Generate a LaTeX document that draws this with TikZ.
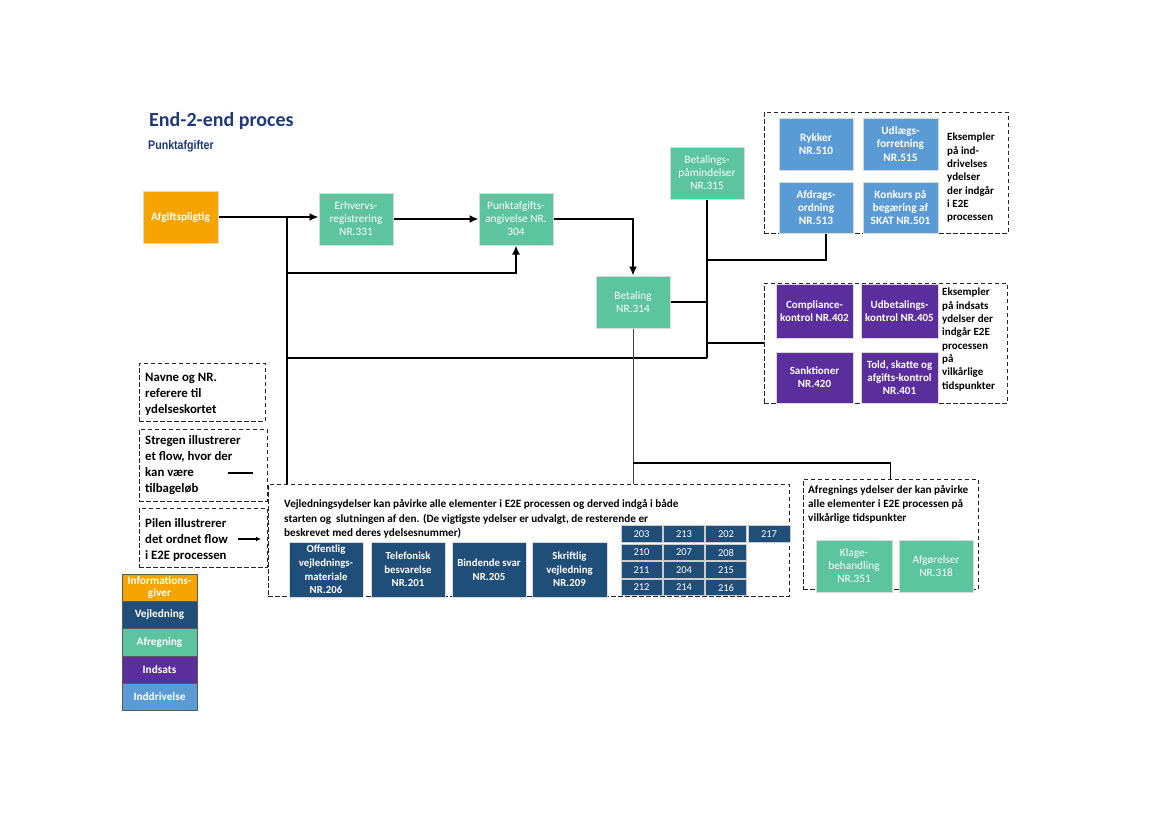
\documentclass[tikz,border=0pt]{standalone}
\usepackage{fontspec}
\setmainfont{Carlito}
\newfontfamily\narrowfont[FakeStretch=0.85]{Liberation Sans}
\usetikzlibrary{arrows.meta}
\definecolor{cnavy}{HTML}{1F3A78}
\definecolor{corange}{HTML}{F5A400}
\definecolor{cgreen}{HTML}{5CC59F}
\definecolor{cblue}{HTML}{5B9BD5}
\definecolor{cpurple}{HTML}{5B2E9E}
\definecolor{cvej}{HTML}{1F4E79}
\begin{document}
\begin{tikzpicture}[x=1pt,y=-1pt,
  every node/.style={inner sep=0pt},
  sz/.style 2 args={minimum width=#1pt,minimum height=#2pt},
  box/.style={rectangle, draw=black!15, line width=1pt, text=white, align=center,
    font=\fontsize{11.3}{13}\selectfont},
  gbox/.style={box, fill=cgreen, sz={74}{52}},
  bbox/.style={box, fill=cblue, sz={74}{52}, font=\fontsize{11.3}{13.3}\selectfont\bfseries},
  pbox/.style={box, fill=cpurple, sz={77}{54}, font=\fontsize{11}{13.3}\selectfont\bfseries},
  vbox/.style={box, fill=cvej, sz={74}{55}, font=\fontsize{10.8}{13.6}\selectfont\bfseries},
  cell/.style={box, fill=cvej, draw=black!20, sz={41}{16.5}, font=\fontsize{10.5}{12}\selectfont},
  leg/.style={box, draw=black!65, line width=0.8pt, sz={75}{27}, font=\fontsize{11.3}{12}\selectfont\bfseries},
  dbox/.style={rectangle, draw=black!85, line width=1pt, dash pattern=on 4.5pt off 2.5pt},
  note/.style={align=left, text=black, font=\fontsize{11}{13.3}\selectfont\bfseries},
  lnote/.style={align=left, text=black, font=\fontsize{12.8}{16}\selectfont\bfseries},
  vnote/.style={align=left, text=black, font=\fontsize{11.2}{14.5}\selectfont\bfseries},
  conn/.style={draw=black, line width=1.6pt},
  thickconn/.style={draw=black, line width=2.6pt},
  thinconn/.style={draw=black, line width=1.2pt},
  arr/.style={-{Latex[length=9pt,width=8pt]}}
]
\fill[white] (0,0) rectangle (1169,827);
\useasboundingbox (0,0) rectangle (1169,827);

% titles
\node[anchor=base west, text=cnavy, font=\fontsize{20}{24}\selectfont\bfseries] (title) at (149,126) {End-2-end proces};
\node[anchor=base west, text=cnavy, font=\narrowfont\fontsize{12.5}{15}\selectfont\bfseries] (sub) at (148,149) {Punktafgifter};

% dashed group boxes
\node[dbox, sz={244}{121}] (inddr) at (886,172.5) {};
\node[dbox, sz={243}{120}] (indsats) at (885.5,343) {};
\node[dbox, sz={521}{112}] (vej) at (528.5,540) {};
\node[dbox, sz={175}{110}] (afr) at (890.5,534) {};
\node[dbox, sz={126}{58}] (lg1) at (202,392) {};
\node[dbox, sz={128}{72}] (lg2) at (203,465) {};
\node[dbox, sz={128}{59}] (lg3) at (203,537.5) {};

% main flow
\node[box, fill=corange, sz={75}{52}, font=\fontsize{11.3}{13}\selectfont\bfseries] (afg) at (180.5,217) {Afgiftspligtig};
\node[gbox] (erh) at (356,219) {Erhvervs-\\registrering\\NR.331};
\node[gbox] (pkt) at (516,219) {Punktafgifts-\\angivelse NR.\\304};
\node[gbox] (bet) at (633,302) {Betaling\\NR.314};
\node[gbox] (bp) at (707,173) {Betalings-\\påmindelser\\NR.315};

% inddrivelse
\node[bbox] (ryk) at (816,144) {Rykker\\NR.510};
\node[bbox, sz={75}{52}] (udl) at (900.5,144) {Udlægs-\\forretning\\NR.515};
\node[bbox, sz={74}{51}] (afd) at (816,207.5) {Afdrags-\\ordning\\NR.513};
\node[bbox, sz={75}{51}] (kon) at (900.5,207.5) {Konkurs på\\begæring af\\SKAT NR.501};
\node[note, anchor=north west] (inddrtxt) at (947,133) {Eksempler\\på ind-\\drivelses\\ydelser\\der indgår\\i E2E\\processen};

% indsats
\node[pbox] (comp) at (814.5,311) {Compliance-\\kontrol NR.402};
\node[pbox] (udb) at (899.5,311) {Udbetalings-\\kontrol NR.405};
\node[pbox, sz={77}{51}] (sank) at (814.5,377.5) {Sanktioner\\NR.420};
\node[pbox, sz={77}{51}] (told) at (899.5,377.5) {Told, skatte og\\afgifts-kontrol\\NR.401};
\node[note, anchor=north west] (indstxt) at (942,288) {Eksempler\\på indsats\\ydelser der\\indgår E2E\\processen\\på\\vilkårlige\\tidspunkter};

% vejledning
\node[vnote, anchor=north west] (vejtxt) at (284,499.5) {Vejledningsydelser kan påvirke alle elementer i E2E processen og derved indgå i både\\starten og\ \ slutningen af den. (De vigtigste ydelser er udvalgt, de resterende er\\beskrevet med deres ydelsesnummer)};
\node[vbox] (off) at (326,569.5) {Offentlig\\vejlednings-\\materiale\\NR.206};
\node[vbox] (tel) at (408,569.5) {Telefonisk\\besvarelse\\NR.201};
\node[vbox] (bin) at (489,569.5) {Bindende svar\\NR.205};
\node[vbox, sz={75}{55}] (skr) at (569.5,569.5) {Skriftlig\\vejledning\\NR.209};
\node[cell] (c203) at (641.5,534) {203};
\node[cell] (c213) at (684,534) {213};
\node[cell] (c202) at (726,534) {202};
\node[cell, sz={42}{16.5}] (c217) at (769,534) {217};
\node[cell] (c210) at (641.5,552.5) {210};
\node[cell] (c207) at (684,552.5) {207};
\node[cell] (c208) at (726,552.5) {208};
\node[cell] (c211) at (641.5,570) {211};
\node[cell] (c204) at (684,570) {204};
\node[cell] (c215) at (726,570) {215};
\node[cell] (c212) at (641.5,587.5) {212};
\node[cell] (c214) at (684,587.5) {214};
\node[cell] (c216) at (726,587.5) {216};

% afregning
\node[vnote, font=\fontsize{11.2}{14}\selectfont\bfseries, anchor=north west] (afrtxt) at (808,485) {Afregnings ydelser der kan påvirke\\alle elementer i E2E processen på\\vilkårlige tidspunkter};
\node[gbox, sz={76}{52}] (klage) at (854,566) {Klage-\\behandling\\NR.351};
\node[gbox] (afgr) at (936,566) {Afgørelser\\NR.318};

% legend notes
\node[lnote, anchor=north west] (lg1txt) at (145,373) {Navne og NR.\\referere til\\ydelseskortet};
\node[lnote, anchor=north west] (lg2txt) at (145,435) {Stregen illustrerer\\et flow, hvor der\\kan være\\tilbageløb};
\node[lnote, anchor=north west] (lg3txt) at (145,518) {Pilen illustrerer\\det ordnet flow\\i E2E processen};
\coordinate (l2a) at (228,473);
\coordinate (l2b) at (253,473);
\draw[thinconn] (l2a) -- (l2b);
\coordinate (l3a) at (238,539);
\coordinate (l3b) at (261,539);
\draw[thinconn, -{Latex[length=5pt,width=5pt]}] (l3a) -- (l3b);

% colour legend
\node[leg, fill=corange] (li) at (159.5,587.5) {Informations-\\giver};
\node[leg, fill=cvej] (lv) at (159.5,614.5) {Vejledning};
\node[leg, fill=cgreen, sz={75}{28}] (la) at (159.5,642) {Afregning};
\node[leg, fill=cpurple] (lin) at (159.5,669.5) {Indsats};
\node[leg, fill=cblue] (ldr) at (159.5,696.5) {Inddrivelse};

% connectors
\coordinate (jA) at (287,217);
\coordinate (jB) at (287,273);
\coordinate (jC) at (287,358);
\coordinate (jD) at (707,358);
\coordinate (jE) at (707,260);
\coordinate (jF) at (707,343);
\coordinate (jG) at (633,463);
\draw[thickconn, arr] (afg.east) -- (erh.west |- afg.east);
\draw[conn] (jA) -- (jA |- vej.north);
\draw[conn, arr] (jB) -| (pkt.south);
\draw[conn] (jC) -- (jD);
\draw[conn, arr] (erh.east) -- (pkt.west);
\draw[conn, arr] (pkt.east) -| (bet.north);
\draw[thinconn] (bet.east) -- (bet.east -| bp.south);
\draw[conn] (bp.south) -- (jD);
\draw[thickconn] (jE) -| ([xshift=10pt]afd.south);
\draw[thinconn] (jF) -- (jF -| indsats.west);
\draw[draw=black!75, line width=1pt] (bet.south) -- (bet.south |- vej.north);
\draw[thinconn] (jG) -| (afr.north);
\end{tikzpicture}
\end{document}
